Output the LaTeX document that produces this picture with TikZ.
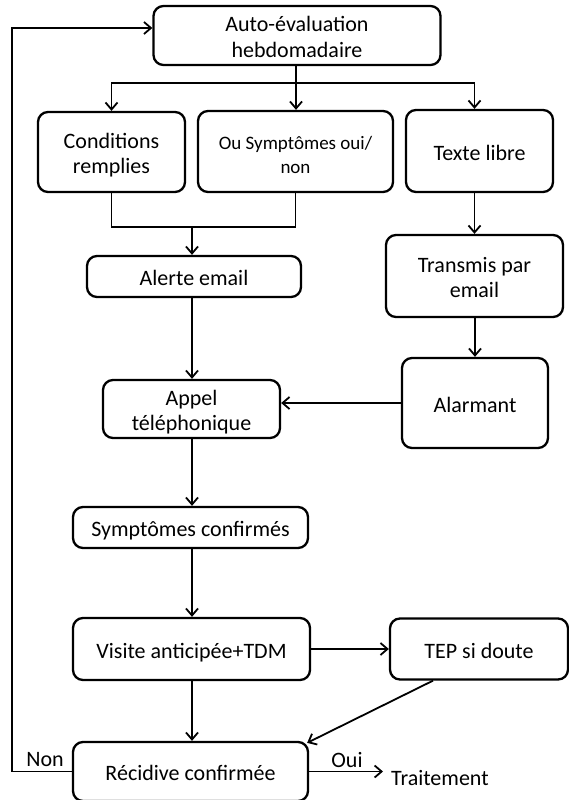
\documentclass[tikz,border=0pt]{standalone}
\usepackage{fontspec}
\setmainfont{Carlito}
\usetikzlibrary{arrows.meta}
\newcommand{\tstr}{\rule{0pt}{24pt}}
\newcommand{\bstr}{\rule[-6pt]{0pt}{6pt}}
\begin{document}
\begin{tikzpicture}[x=1pt,y=-1pt,
  box/.style={draw, line width=2.3pt, rounded corners=10pt, align=center, inner sep=0pt,
              font=\fontsize{22}{25.5}\selectfont},
  smallbox/.style={box, font=\fontsize{19}{24}\selectfont},
  line/.style={line width=1.8pt},
  arr/.style={line width=1.8pt, -{Straight Barb[length=7pt,width=12pt,line width=1.8pt]}},
  lab/.style={inner sep=0pt, font=\fontsize{22}{25}\selectfont}]
\useasboundingbox (0,0) rectangle (569,800);

\node[box, minimum width=287pt, minimum height=59pt] (auto) at (297,35.5) {\tstr Auto-évaluation\\hebdomadaire\bstr};
\node[box, minimum width=147pt, minimum height=80pt] (cond) at (111.5,152) {\tstr Conditions\\remplies\bstr};
\node[smallbox, minimum width=195pt, minimum height=81pt] (ou) at (295.5,151.5) {\rule{0pt}{20pt}Ou Symptômes oui/\\non\rule[-1pt]{0pt}{1pt}};
\node[box, minimum width=147pt, minimum height=82pt] (texte) at (479.5,151) {\tstr Texte libre\bstr};
\node[box, minimum width=177pt, minimum height=82pt] (transmis) at (474.5,276) {\tstr Transmis par\\email\bstr};
\node[box, minimum width=146pt, minimum height=90pt] (alarmant) at (475,403) {\tstr Alarmant\bstr};
\node[box, minimum width=214pt, minimum height=41pt] (alerte) at (194,276.5) {\tstr Alerte email\bstr};
\node[box, minimum width=177pt, minimum height=58pt] (appel) at (191.5,409) {\tstr Appel\\téléphonique\bstr};
\node[box, minimum width=235pt, minimum height=41pt] (symp) at (190.5,527.5) {\tstr Symptômes confirmés\bstr};
\node[box, minimum width=237pt, minimum height=62pt] (visite) at (191.5,649) {\tstr Visite anticipée+TDM\bstr};
\node[box, minimum width=178pt, minimum height=61pt] (tep) at (479,649) {\tstr TEP si doute\bstr};
\node[box, minimum width=235pt, minimum height=59pt] (recid) at (190.5,771.5) {\tstr Récidive confirmée\bstr};

\node[lab] (non) at (45,760) {Non};
\node[lab] (oui) at (347,760) {Oui};
\node[lab, anchor=west] (trait) at (391,778) {Traitement};

\coordinate (b) at (296,83);
\coordinate (m) at (192,227);
\coordinate (col) at (192,0);
\coordinate (L1) at (12,771.5);
\coordinate (L2) at (12,28);

% top distribution
\draw[arr] (auto.south -| b) -- (ou.north -| b);
\draw[arr] (b) -| (cond.north);
\draw[arr] (b) -| (texte.north -| transmis);

% merge into alerte
\draw[line] (cond.south) |- (m);
\draw[line] (ou.south) |- (m);
\draw[arr] (m) -- (alerte.north -| m);

% right column
\draw[arr] (texte.south -| transmis) -- (transmis.north);
\draw[arr] (transmis.south -| alarmant) -- (alarmant.north);
\draw[arr] (alarmant.west) -- (alarmant.west -| appel.east);

% central column
\draw[arr] (alerte.south -| col) -- (appel.north -| col);
\draw[arr] (appel.south -| col) -- (symp.north -| col);
\draw[arr] (symp.south -| col) -- (visite.north -| col);
\draw[arr] (visite.south -| col) -- (recid.north -| col);

% right of visite
\draw[arr] (visite.east) -- (visite.east -| tep.west);
\draw[arr] ([xshift=-46pt]tep.south) -- ([xshift=-2pt,yshift=-2pt]recid.north east);

% outcomes
\draw[arr] (recid.east) -- ([xshift=-8pt]recid.east -| trait.west);
\draw[arr] (recid.west) -- (L1) -- (L2) -- (L2 -| auto.west);
\end{tikzpicture}
\end{document}
